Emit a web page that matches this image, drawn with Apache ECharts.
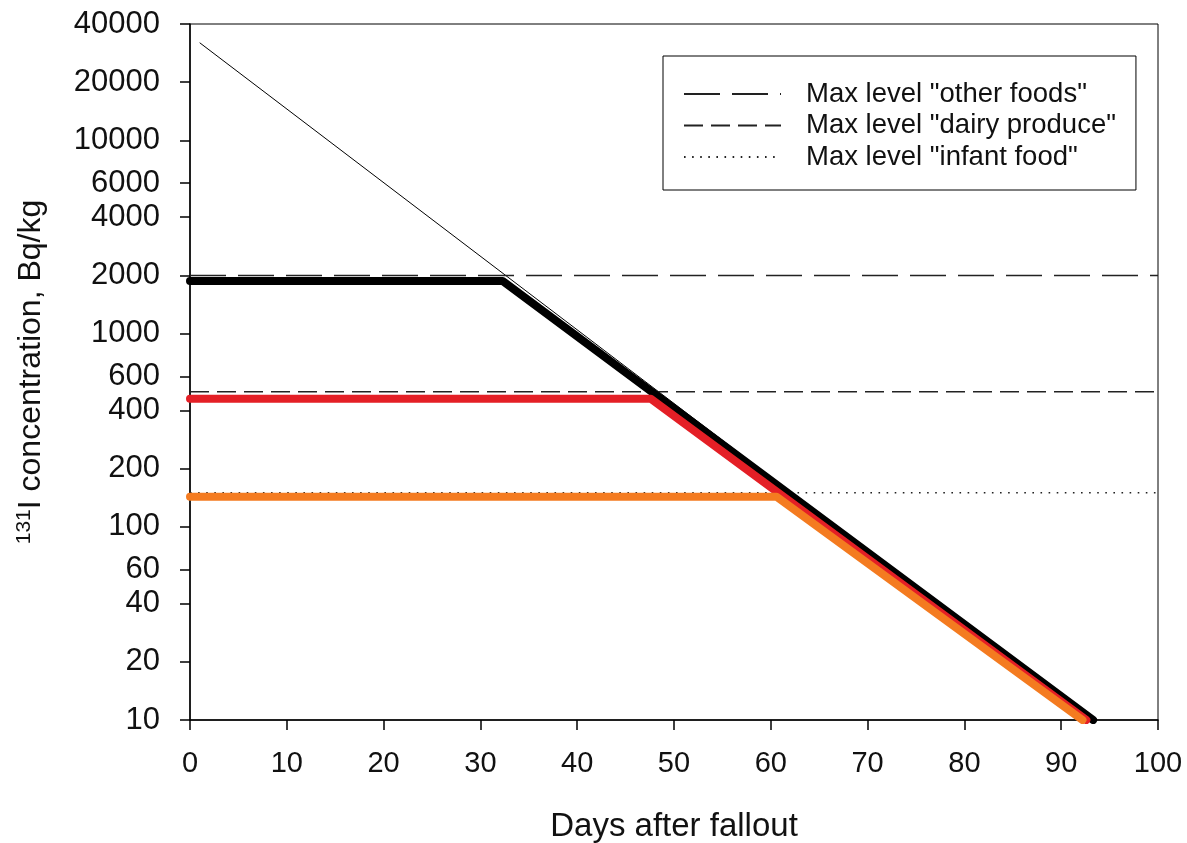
<!DOCTYPE html>
<html>
<head>
<meta charset="utf-8">
<script src="https://cdn.jsdelivr.net/npm/echarts@6/dist/echarts.min.js"></script>
<style>
  html, body { margin: 0; padding: 0; background: #fff; }
  #chart { width: 1187px; height: 843px; }
</style>
</head>
<body>
<div id="chart"></div>
<script>
// ticks
const xTicks = [0, 10, 20, 30, 40, 50, 60, 70, 80, 90, 100];
const yTicks = [10, 20, 40, 60, 100, 200, 400, 600, 1000, 2000, 4000, 6000, 10000, 20000, 40000];

// unrestricted decay of 131I (thin line)
const decayLine = [[1, 32000], [93, 10]];
// restricted concentration curves [day, Bq/kg]
const otherFoodsCurve = [[0, 1870], [32.3, 1870], [93.3, 10]];
const dairyCurve = [[0, 460], [47.6, 460], [92.6, 10]];
const infantCurve = [[0, 143], [60.6, 143], [92.2, 10]];

// max levels
const maxOtherFoods = [[0, 2000], [100, 2000]];
const maxDairy = [[0, 500], [100, 500]];
const maxInfant = [[0, 150], [100, 150]];

const legendNames = ['Max level "other foods"', 'Max level "dairy produce"', 'Max level "infant food"'];

const font = 'Liberation Sans, Arial, sans-serif';
const chart = echarts.init(document.getElementById('chart'));

chart.setOption({
    animation: false,
    backgroundColor: '#fff',
    grid: {
        left: 190,
        right: 29,
        top: 24,
        bottom: 123,
        outerBoundsMode: 'none',
        show: true,
        borderColor: '#000',
        borderWidth: 1
    },
    legend: {
        data: legendNames,
        orient: 'vertical',
        left: 663,
        top: 56,
        itemWidth: 97,
        itemHeight: 14,
        itemGap: 3.5,
        padding: [24, 20, 19, 20],
        borderColor: '#000',
        borderWidth: 1,
        backgroundColor: '#fff',
        itemStyle: { opacity: 0 },
        textStyle: {
            fontFamily: font,
            fontSize: 27.5,
            lineHeight: 27.5,
            color: '#111',
            padding: [0, 0, 0, 20]
        }
    },
    xAxis: {
        type: 'value',
        min: 0,
        max: 100,
        interval: 10,
        name: 'Days after fallout',
        nameLocation: 'middle',
        nameGap: 90,
        nameTextStyle: { fontFamily: font, fontSize: 33, color: '#111' },
        axisLine: { lineStyle: { color: '#000', width: 1.5 } },
        axisTick: { length: 10, lineStyle: { color: '#000', width: 1.5 } },
        axisLabel: { fontFamily: font, fontSize: 29, color: '#111', margin: 29 },
        splitLine: { show: false }
    },
    yAxis: {
        type: 'log',
        logBase: 10,
        min: 10,
        max: 40000,
        name: '{sup|131}{n|I concentration, Bq/kg}',
        nameLocation: 'middle',
        nameRotate: 90,
        nameGap: 141,
        nameTextStyle: {
            fontFamily: font,
            color: '#111',
            rich: {
                sup: { fontFamily: font, fontSize: 21, color: '#111', verticalAlign: 'top', lineHeight: 35 },
                n: { fontFamily: font, fontSize: 32, color: '#111', lineHeight: 35 }
            }
        },
        axisLine: { onZero: false, lineStyle: { color: '#000', width: 1.5 } },
        axisTick: { length: 10, customValues: yTicks, lineStyle: { color: '#000', width: 1.5 } },
        axisLabel: {
            fontFamily: font,
            fontSize: 31,
            color: '#111',
            margin: 30,
            customValues: yTicks,
            formatter: function (v) { return String(v); }
        },
        minorTick: { show: false },
        splitLine: { show: false }
    },
    series: [
        {
            name: 'decay',
            type: 'line',
            data: decayLine,
            symbol: 'none',
            lineStyle: { color: '#000', width: 1 },
            z: 2
        },
        {
            name: legendNames[0],
            type: 'line',
            data: maxOtherFoods,
            symbol: 'none',
            itemStyle: { color: '#222' },
            lineStyle: { color: '#222', width: 1.5, type: [36, 12] },
            z: 2
        },
        {
            name: legendNames[1],
            type: 'line',
            data: maxDairy,
            symbol: 'none',
            itemStyle: { color: '#222' },
            lineStyle: { color: '#222', width: 1.5, type: [19, 8] },
            z: 2
        },
        {
            name: legendNames[2],
            type: 'line',
            data: maxInfant,
            symbol: 'none',
            itemStyle: { color: '#222' },
            lineStyle: { color: '#222', width: 1.6, type: [1.6, 6.5] },
            z: 2
        },
        {
            name: 'other foods',
            type: 'line',
            data: otherFoodsCurve,
            symbol: 'none',
            lineStyle: { color: '#000', width: 8, cap: 'round', join: 'round' },
            z: 3
        },
        {
            name: 'dairy produce',
            type: 'line',
            data: dairyCurve,
            symbol: 'none',
            lineStyle: { color: '#e41f26', width: 8, cap: 'round', join: 'round' },
            z: 4
        },
        {
            name: 'infant food',
            type: 'line',
            data: infantCurve,
            symbol: 'none',
            lineStyle: { color: '#f47b20', width: 8, cap: 'round', join: 'round' },
            z: 5
        }
    ]
});
</script>
</body>
</html>
